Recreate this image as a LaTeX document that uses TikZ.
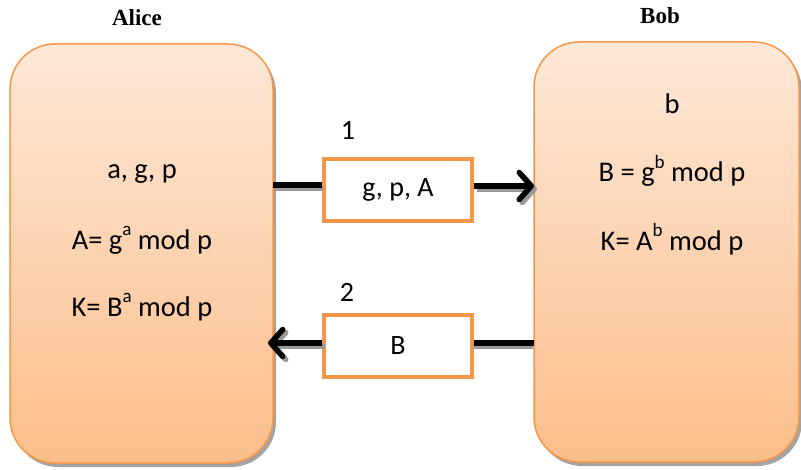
\documentclass[tikz,border=0pt]{standalone}
\usepackage{fontspec}
\setmainfont{Carlito}
\newfontfamily\titlefont{Liberation Serif}
\usetikzlibrary{arrows.meta,shadows}
\definecolor{orangeline}{HTML}{F79646}
\definecolor{topfill}{HTML}{FDE8D8}
\definecolor{botfill}{HTML}{FBBE8A}
\newcommand{\supx}[1]{\raisebox{0.48em}{\fontsize{19}{19}\selectfont #1}}
\tikzset{
  party/.style={draw=orangeline, line width=1.5pt, rounded corners=45pt,
    top color=topfill, bottom color=botfill,
    drop shadow={shadow xshift=3pt, shadow yshift=-4pt, fill=black!45, opacity=0.8}},
  msgbox/.style={draw=orangeline, line width=4pt, fill=white, minimum width=148pt, minimum height=62pt,
    font=\fontsize{28}{32}\selectfont},
  bodytext/.style={font=\fontsize{28.5}{33}\selectfont},
  titletext/.style={font=\titlefont\bfseries\fontsize{23}{26}\selectfont},
  numtext/.style={font=\fontsize{28}{32}\selectfont},
  wire/.style={line width=5.5pt, black},
  wireshadow/.style={line width=5.5pt, black!40},
  tip/.style={-{Straight Barb[length=12pt,width=27pt,round]}}
}
\begin{document}
\begin{tikzpicture}[x=1pt,y=-1pt]
\useasboundingbox (0,0) rectangle (801,470);
% parties
\path[party] (10,44) rectangle (273,463);
\path[party] (534,42) rectangle (799,462);
\node[titletext] (alice) at (137,18) {Alice};
\node[titletext] (bob) at (660,16) {Bob};
\coordinate (aR1) at (273,185);
\coordinate (aR2) at (268,343);
\coordinate (bL1) at (534,186);
\coordinate (bL2) at (534,343);
% Alice texts
\node[bodytext] (a1) at (142,174) {a, g, p};
\node[bodytext] (a2) at (142,240) {A= g\supx{a} mod p};
\node[bodytext] (a3) at (142,307) {K= B\supx{a} mod p};
% Bob texts
\node[bodytext] (b1) at (672,104) {b};
\node[bodytext] (b2) at (672,171) {B = g\supx{b} mod p};
\node[bodytext] (b3) at (672,239) {K= A\supx{b} mod p};
% messages
\node[msgbox] (m1) at (398,190) {g, p, A};
\node[msgbox] (m2) at (398,346) {B};
\node[numtext] (n1) at (348,130) {1};
\node[numtext] (n2) at (347,292) {2};
% wires: shadows
\draw[wireshadow] ([xshift=1pt,yshift=-3pt]aR1) -- ([xshift=1pt,yshift=-3pt]m1.west |- aR1);
\draw[wireshadow,tip] ([xshift=3pt,yshift=-3pt]m1.east |- bL1) -- ([xshift=3pt,yshift=-3pt]bL1);
\draw[wireshadow] ([xshift=-1pt,yshift=-3pt]bL2) -- ([xshift=-1pt,yshift=-3pt]m2.east |- bL2);
\draw[wireshadow,tip] ([xshift=3pt,yshift=-3pt]m2.west |- aR2) -- ([xshift=3pt,yshift=-3pt]aR2);
% wires
\draw[wire] (aR1) -- (m1.west |- aR1);
\draw[wire,tip] (m1.east |- bL1) -- (bL1);
\draw[wire] (bL2) -- (m2.east |- bL2);
\draw[wire,tip] (m2.west |- aR2) -- (aR2);
\end{tikzpicture}
\end{document}
